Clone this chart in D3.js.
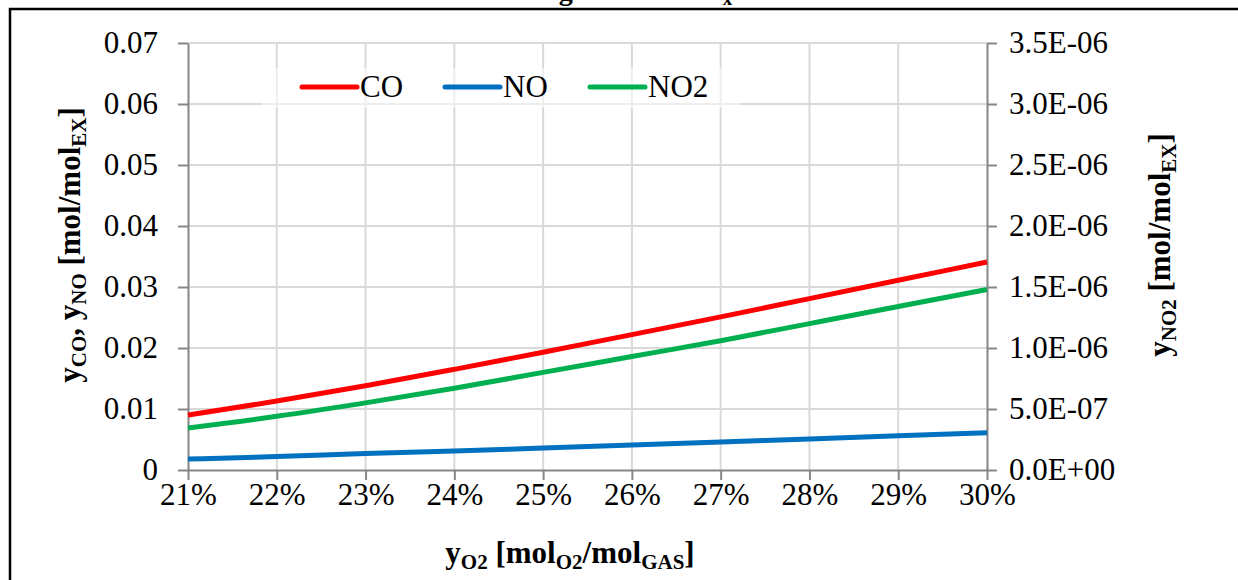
<!DOCTYPE html>
<html><head><meta charset="utf-8">
<script src="https://cdn.jsdelivr.net/npm/d3@7"></script>
<style>body{margin:0;background:#fff}svg{display:block}svg text{font-family:"Liberation Serif","Times New Roman",serif !important}</style>
</head><body><svg id="c" width="1238" height="580"></svg>
<script>
const o2 = [0.21,0.22,0.23,0.24,0.25,0.26,0.27,0.28,0.29,0.30];
const co = [0.0090,0.0113,0.0138,0.0165,0.0193,0.0222,0.0251,0.0281,0.0311,0.0341];
const no = [0.0018,0.0022,0.0027,0.0031,0.0036,0.0041,0.0046,0.0051,0.0056,0.0061];
const no2 = [3.45e-7,4.4e-7,5.5e-7,6.7e-7,8.0e-7,9.3e-7,1.06e-6,1.2e-6,1.34e-6,1.48e-6];
const leftTicks = [0,0.01,0.02,0.03,0.04,0.05,0.06,0.07];
const rightTicks = [0,5e-7,1e-6,1.5e-6,2e-6,2.5e-6,3e-6,3.5e-6];
const xTicks = o2;

const svg = d3.select("#c");
const L=188,R=987,T=43,B=470;
const FS=31;
const x = d3.scaleLinear().domain([0.21,0.30]).range([L,R]);
const yL = d3.scaleLinear().domain([0,0.07]).range([B,T]);
const yR = d3.scaleLinear().domain([0,3.5e-6]).range([B,T]);

// frame
svg.append("path").attr("d","M10,600 L10,9 L1260,9").attr("fill","none").attr("stroke","#000").attr("stroke-width",2.5);
// clipped title (cut off at the top edge as in the original)
svg.append("text").attr("x",628).attr("y",0).attr("text-anchor","middle").attr("font-weight","bold").attr("font-size",28)
  .html('Forming CO and NO<tspan font-size="19" dy="5">x</tspan><tspan dy="-5"> rate</tspan>');

// grid
const g = svg.append("g");
g.selectAll("line.h").data(leftTicks.slice(1)).join("line").attr("x1",L).attr("x2",R)
  .attr("y1",d=>yL(d)).attr("y2",d=>yL(d)).attr("stroke","#d9d9d9").attr("stroke-width",2);
g.selectAll("line.v").data(xTicks.slice(1,-1)).join("line").attr("y1",T).attr("y2",B)
  .attr("x1",d=>x(d)).attr("x2",d=>x(d)).attr("stroke","#d9d9d9").attr("stroke-width",2);

// legend background
svg.append("rect").attr("x",262).attr("y",68).attr("width",478).attr("height",40).attr("fill","#fff").attr("opacity",0.55);

// axes
const ax = (sel)=>{sel.attr("font-family",null).attr("font-size",null);
  sel.select(".domain").attr("stroke","#868686").attr("stroke-width",2);
  sel.selectAll(".tick line").attr("stroke","#868686").attr("stroke-width",2);
  sel.selectAll(".tick text").attr("fill","#000").style("font-size",FS+"px").style("font-family","'Liberation Serif','Times New Roman',serif");};
svg.append("g").attr("transform",`translate(${L},0)`)
  .call(d3.axisLeft(yL).tickValues(leftTicks).tickSize(10).tickSizeOuter(0).tickPadding(20).tickFormat(d=>d===0?"0":d3.format(".2f")(d)))
  .call(ax);
svg.append("g").attr("transform",`translate(${R},0)`)
  .call(d3.axisRight(yR).tickValues(rightTicks).tickSize(10).tickSizeOuter(0).tickPadding(12)
    .tickFormat(d=>{const s=d3.format(".1e")(d).toUpperCase(); let [m,e]=s.split("E"); let sign=e[0]==="-"?"-":"+"; let n=e.replace(/[-+]/,""); if(n.length<2)n="0"+n; return m+"E"+sign+n;}))
  .call(ax);
svg.append("g").attr("transform",`translate(0,${B})`)
  .call(d3.axisBottom(x).tickValues(xTicks).tickSize(10).tickSizeOuter(0).tickPadding(3).tickFormat(d3.format(".0%")))
  .call(ax);

// lines
const lineL = d3.line().x((d,i)=>x(o2[i])).y(d=>yL(d));
const lineR = d3.line().x((d,i)=>x(o2[i])).y(d=>yR(d));
const series = [
  {name:"CO",data:co,color:"#ff0000",gen:lineL},
  {name:"NO",data:no,color:"#0070c0",gen:lineL},
  {name:"NO2",data:no2,color:"#00b050",gen:lineR}];
series.forEach(s=>svg.append("path").attr("d",s.gen.curve(d3.curveMonotoneX)(s.data)).attr("fill","none")
  .attr("stroke",s.color).attr("stroke-width",5));

// legend
const legX=[302,445,590];
series.forEach((s,i)=>{
  svg.append("line").attr("x1",legX[i]).attr("x2",legX[i]+55).attr("y1",87).attr("y2",87)
    .attr("stroke",s.color).attr("stroke-width",5).attr("stroke-linecap","round");
  svg.append("text").attr("x",legX[i]+58).attr("y",97).attr("font-size",FS).text(s.name);
});

// axis titles
svg.append("text").attr("x",570).attr("y",563).attr("text-anchor","middle").attr("font-weight","bold").attr("font-size",FS)
  .html('y<tspan font-size="21" dy="6">O2</tspan><tspan dy="-6"> [mol</tspan><tspan font-size="21" dy="6">O2</tspan><tspan dy="-6">/mol</tspan><tspan font-size="21" dy="6">GAS</tspan><tspan dy="-6">]</tspan>');
svg.append("text").attr("transform","translate(80,245) rotate(-90)").attr("text-anchor","middle").attr("font-weight","bold").attr("font-size",FS)
  .html('y<tspan font-size="21" dy="6">CO</tspan><tspan dy="-6">, y</tspan><tspan font-size="21" dy="6">NO</tspan><tspan dy="-6"> [mol/mol</tspan><tspan font-size="21" dy="6">EX</tspan><tspan dy="-6">]</tspan>');
svg.append("text").attr("transform","translate(1170,245) rotate(-90)").attr("text-anchor","middle").attr("font-weight","bold").attr("font-size",FS)
  .html('y<tspan font-size="21" dy="6">NO2</tspan><tspan dy="-6"> [mol/mol</tspan><tspan font-size="21" dy="6">EX</tspan><tspan dy="-6">]</tspan>');
</script></body></html>
